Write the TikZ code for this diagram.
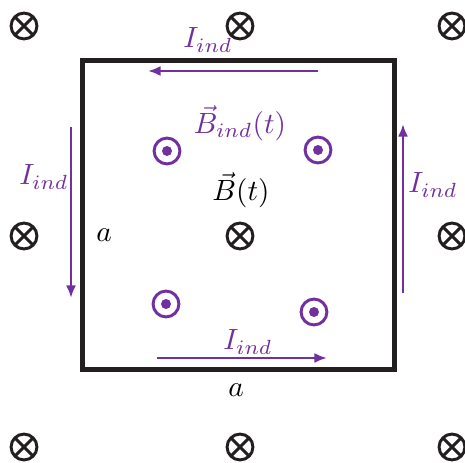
\documentclass[tikz,border=0pt]{standalone}
\usepackage{tikz}
\usetikzlibrary{arrows.meta}
\definecolor{indpurple}{RGB}{112,48,160}
\definecolor{loopblack}{RGB}{35,31,32}

\begin{document}
\begin{tikzpicture}[x=0.012cm, y=-0.012cm, font=\normalsize, inner sep=1pt,
  fieldin/.style={draw=loopblack, circle, line width=1pt, minimum size=0.31cm, inner sep=0pt,
    path picture={\draw[loopblack, line width=1pt] (path picture bounding box.north west) -- (path picture bounding box.south east) (path picture bounding box.north east) -- (path picture bounding box.south west);}},
  fieldout/.style={draw=indpurple, circle, line width=1pt, minimum size=0.31cm, inner sep=0pt,
    path picture={\fill[indpurple] (path picture bounding box.center) circle (0.06cm);}},
  current/.style={draw=indpurple, line width=1pt, -{Latex[length=0.15cm,width=0.12cm]}},
  lbl/.style={text=indpurple}]

\useasboundingbox (0,0) rectangle (465,463);

% Loop
\node (loop) [draw=loopblack, line width=0.06cm, minimum width=3.732cm, minimum height=3.696cm, inner sep=0pt] at (238.5,215) {};

% External field (into the page)
\foreach \x/\y [count=\i] in {24/26, 240/26, 452/26, 24/236, 240/236, 452/236, 24/447, 240/447, 452/447}
  \node (bin\i) [fieldin] at (\x,\y) {};

% Induced field (out of the page)
\node (bout1) [fieldout] at (167,151) {};
\node (bout2) [fieldout] at (318,150) {};
\node (bout3) [fieldout] at (166,304) {};
\node (bout4) [fieldout] at (314,312) {};

% Labels
\node (bindLbl) [lbl] at (240,123) {$\vec{B}_{ind}(t)$};
\node (bLbl) at (241,190) {$\vec{B}(t)$};
\node (sideA) at (104,235) {$a$};
\node (baseA) at (236,390) {$a$};
\node (itop) [lbl] at (208,40) {$I_{ind}$};
\node (ileft) [lbl] at (44,177) {$I_{ind}$};
\node (iright) [lbl] at (433,185) {$I_{ind}$};
\node (ibottom) [lbl] at (248,342) {$I_{ind}$};

% Current ends
\coordinate (topS) at (318,71);
\coordinate (topE) at (148,71);
\coordinate (leftS) at (71,127);
\coordinate (leftE) at (71,298);
\coordinate (rightS) at (403,293);
\coordinate (rightE) at (403,124);
\coordinate (botS) at (157,358);
\coordinate (botE) at (327,358);

% Arrows
\draw[current] (topS) -- (topE);
\draw[current] (leftS) -- (leftE);
\draw[current] (rightS) -- (rightE);
\draw[current] (botS) -- (botE);

\end{tikzpicture}
\end{document}
